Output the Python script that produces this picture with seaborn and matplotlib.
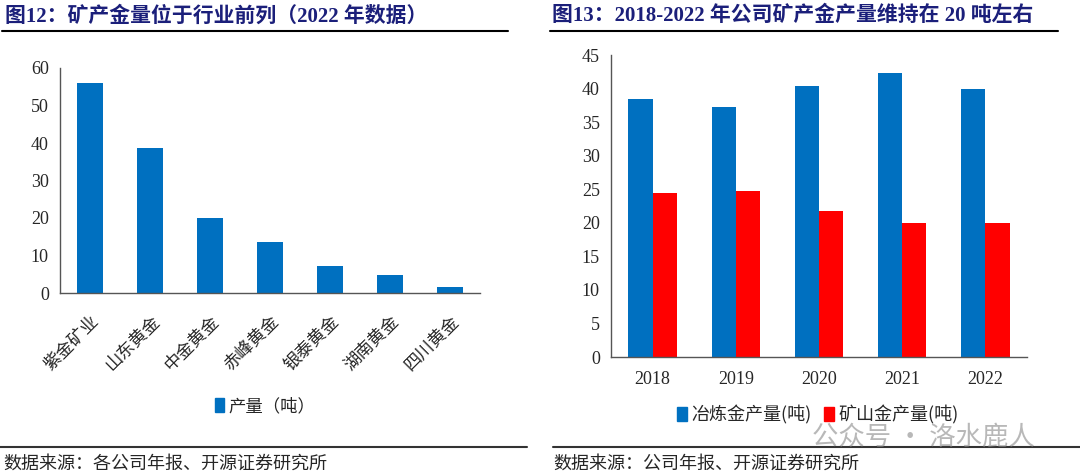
import matplotlib
matplotlib.use("Agg")
from matplotlib import pyplot as plt
from matplotlib.patches import Patch
from matplotlib.lines import Line2D
import pandas as pd
import seaborn as sns

# data
companies = ["紫金矿业", "山东黄金", "中金黄金", "赤峰黄金", "银泰黄金", "湖南黄金", "四川黄金"]
output_2022 = [56.1, 38.7, 20.0, 13.7, 7.1, 4.7, 1.7]

years = ["2018", "2019", "2020", "2021", "2022"]
smelted_gold = [38.4, 37.3, 40.4, 42.3, 40.0]
mined_gold = [24.4, 24.7, 21.7, 20.0, 19.9]

left_yticks = [0, 10, 20, 30, 40, 50, 60]
right_yticks = [0, 5, 10, 15, 20, 25, 30, 35, 40, 45]

blue = "#0070C0"
red = "#FF0000"
navy = "#1B1F7A"

sns.set_style("white")
plt.rcParams["font.family"] = ["Liberation Serif", "Noto Sans CJK SC", "DejaVu Sans"]
cjk = ["Noto Sans CJK SC", "DejaVu Sans"]

fig = plt.figure(figsize=(10.8, 4.74), dpi=100)

W, H = 1080, 474
def px(x0, y0, x1, y1):
    return [x0 / W, 1 - y1 / H, (x1 - x0) / W, (y1 - y0) / H]

ax1 = fig.add_axes(px(60, 68, 480, 293))
ax2 = fig.add_axes(px(611, 55, 1027, 357))

# left chart
df1 = pd.DataFrame({"company": companies, "output": output_2022})
sns.barplot(data=df1, x="company", y="output", color=blue, width=0.42,
            saturation=1, ax=ax1)
ax1.set_ylim(0, 60)
ax1.set_yticks(left_yticks)
ax1.set_xlim(-0.5, len(companies) - 0.5)
ax1.set_xlabel("")
ax1.set_ylabel("")
ax1.set_xticks(range(len(companies)))
ax1.set_xticklabels(companies, rotation=45, ha="right", rotation_mode="anchor",
                    family=cjk, fontsize=12.5)

# right chart
df2 = pd.DataFrame({
    "year": years * 2,
    "value": smelted_gold + mined_gold,
    "kind": ["冶炼金产量(吨)"] * len(years) + ["矿山金产量(吨)"] * len(years),
})
sns.barplot(data=df2, x="year", y="value", hue="kind", palette=[blue, red],
            width=0.58, saturation=1, ax=ax2, legend=False)
ax2.set_ylim(0, 45)
ax2.set_yticks(right_yticks)
ax2.set_xlim(-0.5, len(years) - 0.5)
ax2.set_xlabel("")
ax2.set_ylabel("")

for ax, n in [(ax1, len(companies)), (ax2, len(years))]:
    for s in ["top", "right"]:
        ax.spines[s].set_visible(False)
    for s in ["left", "bottom"]:
        ax.spines[s].set_color("#555555")
        ax.spines[s].set_linewidth(1.0)
    ax.set_xticks([i - 0.5 for i in range(n + 1)], minor=True)
    ax.tick_params(axis="x", which="major", length=0, pad=8)
    ax.tick_params(axis="x", which="minor", length=5, direction="out", color="#555555")
    ax.tick_params(axis="y", length=4, direction="in", color="#555555", labelsize=13, pad=8)
    for p in ax.patches:
        p.set_edgecolor("none")

ax1.tick_params(axis="x", which="major", pad=14)
ax2.tick_params(axis="x", labelsize=13, pad=10)

# legends
ax1.legend(handles=[Patch(color=blue, label="产量（吨）")], loc="center",
           bbox_to_anchor=(265 / W, 1 - 406 / H), bbox_transform=fig.transFigure,
           frameon=False, prop={"family": cjk, "size": 12.5}, handlelength=0.55,
           handleheight=0.8, handletextpad=0.25)
ax2.legend(handles=[Patch(color=blue, label="冶炼金产量(吨)"),
                    Patch(color=red, label="矿山金产量(吨)")],
           loc="center", ncol=2,
           bbox_to_anchor=(818 / W, 1 - 415 / H), bbox_transform=fig.transFigure,
           frameon=False, prop={"family": cjk, "size": 13}, handlelength=0.55,
           handleheight=0.8, handletextpad=0.25, columnspacing=0.7)

# titles and rules
fig.text(5 / W, 1 - 16 / H, "图12：矿产金量位于行业前列（2022 年数据）", color=navy,
         fontsize=15, fontweight="bold", va="center", ha="left",
         family=["Liberation Serif", "Noto Sans CJK SC"])
fig.text(552 / W, 1 - 16 / H, "图13：2018-2022 年公司矿产金产量维持在 20 吨左右", color=navy,
         fontsize=15, fontweight="bold", va="center", ha="left",
         family=["Liberation Serif", "Noto Sans CJK SC"])
fig.add_artist(Line2D([2 / W, 508 / W], [1 - 31 / H] * 2, color="black", lw=1.5))
fig.add_artist(Line2D([550 / W, 1058 / W], [1 - 31 / H] * 2, color="black", lw=1.5))
fig.add_artist(Line2D([0, 527 / W], [1 - 447 / H] * 2, color="#333333", lw=1.5))
fig.add_artist(Line2D([553 / W, 1], [1 - 447 / H] * 2, color="#333333", lw=1.5))

fig.text(3 / W, 1 - 464 / H, "数据来源：各公司年报、开源证券研究所", fontsize=13,
         va="center", ha="left", family=cjk)
fig.text(553 / W, 1 - 464 / H, "数据来源：公司年报、开源证券研究所", fontsize=13,
         va="center", ha="left", family=cjk)

# watermark
fig.text(812 / W, 1 - 437 / H, "公众号 · 洛水鹿人", fontsize=19, color="#8A8A8A",
         alpha=0.6, va="center", ha="left", family=cjk)

fig.savefig("out.png", dpi=100)
